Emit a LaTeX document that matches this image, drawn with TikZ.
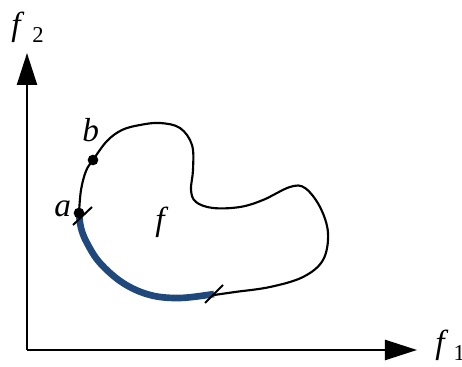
\documentclass[tikz,border=0pt]{standalone}
\usepackage{fontspec}
\setmainfont{Liberation Serif}
\usepackage{xcolor}
\usetikzlibrary{arrows.meta}
\definecolor{FrontBlue}{HTML}{1F497D}

\begin{document}
\begin{tikzpicture}[
    x=0.75pt, y=-0.75pt,
    every node/.style={font=\fontsize{25}{27}\selectfont, inner sep=0pt},
    axis/.style={line width=1.8pt, -{Triangle[length=24pt, width=15pt]}},
    front/.style={line width=1.6pt},
    segment/.style={line width=5pt, color=FrontBlue},
    cut/.style={line width=1.5pt},
    dot/.style={circle, fill, minimum size=8pt}
  ]
    \useasboundingbox (0,0) rectangle (462,367);

    % axes
    \coordinate (origin) at (27,350);
    \coordinate (ytip) at (27,53);
    \coordinate (xtip) at (417,350);
    \draw[axis] (origin) -- (ytip);
    \draw[axis] (origin) -- (xtip);
    \node[anchor=base west] (f2) at (11,36) {\textit{f}\hspace{6pt}\raisebox{-5pt}{\fontsize{17}{18}\selectfont 2}};
    \node[anchor=base west] (f1) at (435,354) {\textit{f}\hspace{4pt}\raisebox{-5pt}{\fontsize{17}{18}\selectfont 1}};

    % front curve
    \draw[front] plot[smooth, tension=0.6] coordinates {
      (79,213) (81,190) (86,171) (93,160) (107,141) (122,130) (140,125)
      (160,123) (180,128) (192,145) (193,170) (191,190) (196,202)
      (213,208) (240,207) (263,200) (290,187) (305,188) (320,207)
      (328,233) (323,260) (303,277) (270,287) (235,292) (214,295)};
    \draw[segment] plot[smooth, tension=0.6] coordinates {
      (79,213) (81,228) (87,243) (100,263) (123,283) (150,295)
      (180,298) (214,294)};

    % end cuts
    \coordinate (cutA1) at (73,225);
    \coordinate (cutA2) at (92,207);
    \coordinate (cutB1) at (205,303);
    \coordinate (cutB2) at (223,285);
    \draw[cut] (cutA1) -- (cutA2);
    \draw[cut] (cutB1) -- (cutB2);

    % points
    \node[dot] (pa) at (79,213) {};
    \node[dot] (pb) at (93,160) {};
    \node[anchor=base west] (la) at (54,217) {\textit{a}};
    \node[anchor=base west] (lb) at (82,142) {\textit{b}};
    \node[anchor=base west] (lf) at (155,231) {\textit{f}};
  \end{tikzpicture}
\end{document}
